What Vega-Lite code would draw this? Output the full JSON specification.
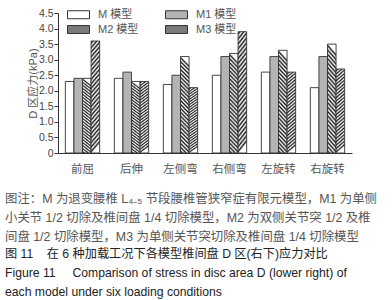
{
  "$schema": "https://vega.github.io/schema/vega-lite/v6.json",
  "width": 294,
  "height": 140,
  "autosize": {"type": "none"},
  "padding": {"left": 58, "top": 13, "right": 40, "bottom": 147},
  "config": {
    "view": {"stroke": null},
    "font": "Liberation Sans, Noto Sans CJK SC",
    "legend": {"symbolStrokeColor": "#333333", "symbolStrokeWidth": 1}
  },
  "title": {
    "text": [
      "图注：M 为退变腰椎 L₄₋₅ 节段腰椎管狭窄症有限元模型，M1 为单侧",
      "小关节 1/2 切除及椎间盘 1/4 切除模型，M2 为双侧关节突 1/2 及椎",
      "间盘 1/2 切除模型，M3 为单侧关节突切除及椎间盘 1/4 切除模型"
    ],
    "subtitle": [
      "图 11\u00a0\u00a0\u00a0\u00a0在 6 种加载工况下各模型椎间盘 D 区(右下)应力对比",
      "Figure 11\u00a0\u00a0\u00a0\u00a0\u00a0Comparison of stress in disc area D (lower right) of",
      "each model under six loading conditions"
    ],
    "orient": "bottom",
    "anchor": "start",
    "frame": "group",
    "dx": -53,
    "offset": 18,
    "font": "Liberation Sans, Noto Sans CJK SC",
    "fontSize": 12.4,
    "fontWeight": "normal",
    "color": "#555555",
    "lineHeight": 19,
    "subtitleFont": "Liberation Sans, Noto Sans CJK SC",
    "subtitleFontSize": 12.2,
    "subtitleFontWeight": "normal",
    "subtitleColor": "#222222",
    "subtitleLineHeight": 19,
    "subtitlePadding": 5
  },
  "data": {
    "values": [
      {"pose": "前屈", "model": "M 模型", "v": 2.3},
      {"pose": "前屈", "model": "M1 模型", "v": 2.4},
      {"pose": "前屈", "model": "M2 模型", "v": 2.4},
      {"pose": "前屈", "model": "M3 模型", "v": 3.6},
      {"pose": "后伸", "model": "M 模型", "v": 2.4},
      {"pose": "后伸", "model": "M1 模型", "v": 2.6},
      {"pose": "后伸", "model": "M2 模型", "v": 2.3},
      {"pose": "后伸", "model": "M3 模型", "v": 2.3},
      {"pose": "左侧弯", "model": "M 模型", "v": 2.2},
      {"pose": "左侧弯", "model": "M1 模型", "v": 2.5},
      {"pose": "左侧弯", "model": "M2 模型", "v": 3.1},
      {"pose": "左侧弯", "model": "M3 模型", "v": 2.1},
      {"pose": "右侧弯", "model": "M 模型", "v": 2.5},
      {"pose": "右侧弯", "model": "M1 模型", "v": 3.1},
      {"pose": "右侧弯", "model": "M2 模型", "v": 3.2},
      {"pose": "右侧弯", "model": "M3 模型", "v": 3.9},
      {"pose": "左旋转", "model": "M 模型", "v": 2.6},
      {"pose": "左旋转", "model": "M1 模型", "v": 3.1},
      {"pose": "左旋转", "model": "M2 模型", "v": 3.3},
      {"pose": "左旋转", "model": "M3 模型", "v": 2.6},
      {"pose": "右旋转", "model": "M 模型", "v": 2.1},
      {"pose": "右旋转", "model": "M1 模型", "v": 3.1},
      {"pose": "右旋转", "model": "M2 模型", "v": 3.5},
      {"pose": "右旋转", "model": "M3 模型", "v": 2.7}
    ]
  },
  "mark": {"type": "bar", "stroke": "#333333", "strokeWidth": 0.9},
  "encoding": {
    "x": {
      "field": "pose",
      "type": "nominal",
      "sort": ["前屈", "后伸", "左侧弯", "右侧弯", "左旋转", "右旋转"],
      "scale": {"paddingInner": 0.3, "paddingOuter": 0.15},
      "axis": {
        "title": null,
        "labelAngle": 0,
        "ticks": false,
        "labelPadding": 10,
        "labelFontSize": 11.5,
        "labelColor": "#555555",
        "domainColor": "#333333",
        "domainWidth": 1
      }
    },
    "xOffset": {
      "field": "model",
      "sort": ["M 模型", "M1 模型", "M2 模型", "M3 模型"],
      "scale": {"paddingInner": 0, "paddingOuter": 0}
    },
    "y": {
      "field": "v",
      "type": "quantitative",
      "scale": {"domain": [0, 4.5], "nice": false},
      "axis": {
        "title": "D 区应力(kPa)",
        "titleFontSize": 11,
        "titleFontWeight": "normal",
        "titleColor": "#555555",
        "titlePadding": 0,
        "values": [0, 0.5, 1, 1.5, 2, 2.5, 3, 3.5, 4, 4.5],
        "labelExpr": "datum.value === 0 ? '0' : format(datum.value, '.1f')",
        "labelFontSize": 10.5,
        "labelColor": "#444444",
        "labelPadding": 1,
        "tickSize": 4,
        "tickColor": "#333333",
        "domainColor": "#333333",
        "domainWidth": 1,
        "grid": false
      }
    },
    "fill": {
      "field": "model",
      "type": "nominal",
      "scale": {
        "domain": ["M 模型", "M1 模型", "M2 模型", "M3 模型"],
        "range": ["#ffffff", "#b4b4b4", "#7a7a7a", "#7a7a7a"]
      },
      "condition": [
        {
          "test": "datum.model === 'M2 模型'",
          "value": {
            "gradient": "linear", "x1": 0.09, "y1": 0, "x2": 0, "y2": 1,
            "stops": [
              {"offset": 0, "color": "#ffffff"}, {"offset": 0.02, "color": "#1a1a1a"},
              {"offset": 0.04, "color": "#ffffff"}, {"offset": 0.06, "color": "#1a1a1a"},
              {"offset": 0.08, "color": "#ffffff"}, {"offset": 0.1, "color": "#1a1a1a"},
              {"offset": 0.12, "color": "#ffffff"}, {"offset": 0.14, "color": "#1a1a1a"},
              {"offset": 0.16, "color": "#ffffff"}, {"offset": 0.18, "color": "#1a1a1a"},
              {"offset": 0.2, "color": "#ffffff"}, {"offset": 0.22, "color": "#1a1a1a"},
              {"offset": 0.24, "color": "#ffffff"}, {"offset": 0.26, "color": "#1a1a1a"},
              {"offset": 0.28, "color": "#ffffff"}, {"offset": 0.3, "color": "#1a1a1a"},
              {"offset": 0.32, "color": "#ffffff"}, {"offset": 0.34, "color": "#1a1a1a"},
              {"offset": 0.36, "color": "#ffffff"}, {"offset": 0.38, "color": "#1a1a1a"},
              {"offset": 0.4, "color": "#ffffff"}, {"offset": 0.42, "color": "#1a1a1a"},
              {"offset": 0.44, "color": "#ffffff"}, {"offset": 0.46, "color": "#1a1a1a"},
              {"offset": 0.48, "color": "#ffffff"}, {"offset": 0.5, "color": "#1a1a1a"},
              {"offset": 0.52, "color": "#ffffff"}, {"offset": 0.54, "color": "#1a1a1a"},
              {"offset": 0.56, "color": "#ffffff"}, {"offset": 0.58, "color": "#1a1a1a"},
              {"offset": 0.6, "color": "#ffffff"}, {"offset": 0.62, "color": "#1a1a1a"},
              {"offset": 0.64, "color": "#ffffff"}, {"offset": 0.66, "color": "#1a1a1a"},
              {"offset": 0.68, "color": "#ffffff"}, {"offset": 0.7, "color": "#1a1a1a"},
              {"offset": 0.72, "color": "#ffffff"}, {"offset": 0.74, "color": "#1a1a1a"},
              {"offset": 0.76, "color": "#ffffff"}, {"offset": 0.78, "color": "#1a1a1a"},
              {"offset": 0.8, "color": "#ffffff"}, {"offset": 0.82, "color": "#1a1a1a"},
              {"offset": 0.84, "color": "#ffffff"}, {"offset": 0.86, "color": "#1a1a1a"},
              {"offset": 0.88, "color": "#ffffff"}, {"offset": 0.9, "color": "#1a1a1a"},
              {"offset": 0.92, "color": "#ffffff"}, {"offset": 0.94, "color": "#1a1a1a"},
              {"offset": 0.96, "color": "#ffffff"}, {"offset": 0.98, "color": "#1a1a1a"},
              {"offset": 1, "color": "#ffffff"}
            ]
          }
        },
        {
          "test": "datum.model === 'M3 模型'",
          "value": {
            "gradient": "linear", "x1": 0, "y1": 0, "x2": 0.09, "y2": 1,
            "stops": [
              {"offset": 0, "color": "#ffffff"}, {"offset": 0.02, "color": "#1a1a1a"},
              {"offset": 0.04, "color": "#ffffff"}, {"offset": 0.06, "color": "#1a1a1a"},
              {"offset": 0.08, "color": "#ffffff"}, {"offset": 0.1, "color": "#1a1a1a"},
              {"offset": 0.12, "color": "#ffffff"}, {"offset": 0.14, "color": "#1a1a1a"},
              {"offset": 0.16, "color": "#ffffff"}, {"offset": 0.18, "color": "#1a1a1a"},
              {"offset": 0.2, "color": "#ffffff"}, {"offset": 0.22, "color": "#1a1a1a"},
              {"offset": 0.24, "color": "#ffffff"}, {"offset": 0.26, "color": "#1a1a1a"},
              {"offset": 0.28, "color": "#ffffff"}, {"offset": 0.3, "color": "#1a1a1a"},
              {"offset": 0.32, "color": "#ffffff"}, {"offset": 0.34, "color": "#1a1a1a"},
              {"offset": 0.36, "color": "#ffffff"}, {"offset": 0.38, "color": "#1a1a1a"},
              {"offset": 0.4, "color": "#ffffff"}, {"offset": 0.42, "color": "#1a1a1a"},
              {"offset": 0.44, "color": "#ffffff"}, {"offset": 0.46, "color": "#1a1a1a"},
              {"offset": 0.48, "color": "#ffffff"}, {"offset": 0.5, "color": "#1a1a1a"},
              {"offset": 0.52, "color": "#ffffff"}, {"offset": 0.54, "color": "#1a1a1a"},
              {"offset": 0.56, "color": "#ffffff"}, {"offset": 0.58, "color": "#1a1a1a"},
              {"offset": 0.6, "color": "#ffffff"}, {"offset": 0.62, "color": "#1a1a1a"},
              {"offset": 0.64, "color": "#ffffff"}, {"offset": 0.66, "color": "#1a1a1a"},
              {"offset": 0.68, "color": "#ffffff"}, {"offset": 0.7, "color": "#1a1a1a"},
              {"offset": 0.72, "color": "#ffffff"}, {"offset": 0.74, "color": "#1a1a1a"},
              {"offset": 0.76, "color": "#ffffff"}, {"offset": 0.78, "color": "#1a1a1a"},
              {"offset": 0.8, "color": "#ffffff"}, {"offset": 0.82, "color": "#1a1a1a"},
              {"offset": 0.84, "color": "#ffffff"}, {"offset": 0.86, "color": "#1a1a1a"},
              {"offset": 0.88, "color": "#ffffff"}, {"offset": 0.9, "color": "#1a1a1a"},
              {"offset": 0.92, "color": "#ffffff"}, {"offset": 0.94, "color": "#1a1a1a"},
              {"offset": 0.96, "color": "#ffffff"}, {"offset": 0.98, "color": "#1a1a1a"},
              {"offset": 1, "color": "#ffffff"}
            ]
          }
        }
      ],
      "legend": {
        "title": null,
        "orient": "none",
        "direction": "horizontal",
        "legendX": 15,
        "legendY": -4,
        "columns": 2,
        "columnPadding": 24,
        "rowPadding": 2,
        "padding": 0,
        "symbolType": "M-2.2,-0.8H2.2V0.8H-2.2Z",
        "symbolSize": 100,
        "symbolStrokeColor": "#333333",
        "symbolStrokeWidth": 1,
        "symbolOpacity": 1,
        "labelOffset": 14,
        "labelFontSize": 11,
        "labelColor": "#555555",
        "encode": {
          "symbols": {
            "update": {
              "stroke": {"value": "#333333"},
              "strokeOpacity": {"value": 1},
              "strokeWidth": {"value": 1},
              "fill": {"signal": "datum.value === 'M1 模型' ? '#b4b4b4' : datum.value === 'M2 模型' ? {gradient: 'linear', x1: 1, y1: 0, x2: 0, y2: 0.364, stops: [{offset: 0, color: '#ffffff'}, {offset: 0.1, color: '#1a1a1a'}, {offset: 0.2, color: '#ffffff'}, {offset: 0.3, color: '#1a1a1a'}, {offset: 0.4, color: '#ffffff'}, {offset: 0.5, color: '#1a1a1a'}, {offset: 0.6, color: '#ffffff'}, {offset: 0.7, color: '#1a1a1a'}, {offset: 0.8, color: '#ffffff'}, {offset: 0.9, color: '#1a1a1a'}, {offset: 1, color: '#ffffff'}]} : datum.value === 'M3 模型' ? {gradient: 'linear', x1: 0, y1: 0, x2: 1, y2: 0.364, stops: [{offset: 0, color: '#ffffff'}, {offset: 0.1, color: '#1a1a1a'}, {offset: 0.2, color: '#ffffff'}, {offset: 0.3, color: '#1a1a1a'}, {offset: 0.4, color: '#ffffff'}, {offset: 0.5, color: '#1a1a1a'}, {offset: 0.6, color: '#ffffff'}, {offset: 0.7, color: '#1a1a1a'}, {offset: 0.8, color: '#ffffff'}, {offset: 0.9, color: '#1a1a1a'}, {offset: 1, color: '#ffffff'}]} : '#ffffff'"}
            }
          }
        }
      }
    }
  }
}
